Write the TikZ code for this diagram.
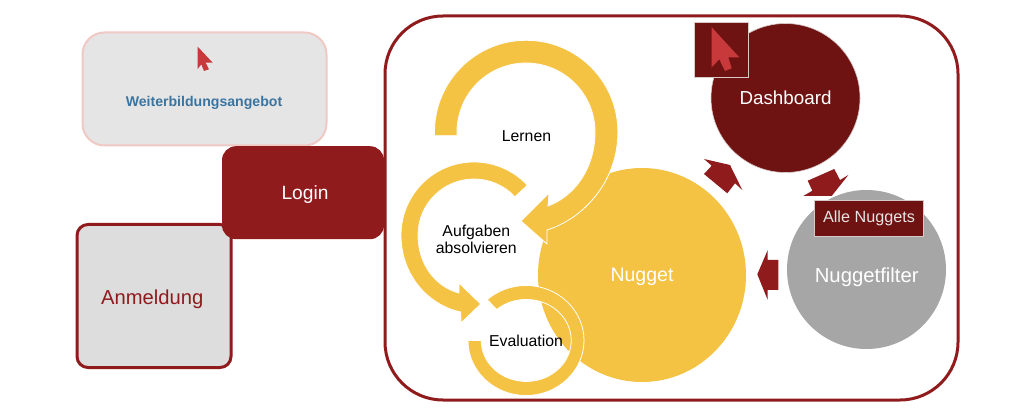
\documentclass[tikz,border=0pt]{standalone}
\usepackage{fontspec}
\usetikzlibrary{shapes.geometric}
\setmainfont{Liberation Sans}
\definecolor{crimson}{HTML}{8F1B1D}
\definecolor{darkred}{HTML}{6E1312}
\definecolor{gold}{HTML}{F5C344}
\definecolor{cursorred}{HTML}{C8393B}
\definecolor{softgrey}{HTML}{E5E5E5}
\definecolor{softpink}{HTML}{F0C8C4}
\definecolor{boxgrey}{HTML}{DDDDDD}
\definecolor{linkblue}{HTML}{3A74A0}
\definecolor{filtergrey}{HTML}{A6A6A6}
\definecolor{paleedge}{HTML}{D8C8C8}
\tikzset{
  boxnode/.style={rectangle,inner sep=0pt,outer sep=0pt,align=center},
  roundnode/.style={ellipse,inner sep=0pt,outer sep=0pt,align=center},
  label18/.style={inner sep=0pt,outer sep=0pt,align=center,font=\fontsize{#1}{#1}\selectfont},
  ringarrow/.style={fill=gold,draw=white,line width=0.8pt,line join=miter},
  blockarrow/.style={fill=crimson,draw=none},
  cursorshape/.style={fill=cursorred,draw=none},
}
\begin{document}
\begin{tikzpicture}[x=1pt,y=-1pt]
\useasboundingbox (0,0) rectangle (1024,419);
% left boxes
\node[boxnode,minimum width=244pt,minimum height=113pt,rounded corners=22pt,fill=softgrey,draw=softpink,line width=2pt] (offer) at (204.5,89) {};
\fill[cursorshape] (197.7,46.7) -- (212.7,62.7) -- (205.7,62.7) -- (209,69.3) -- (204,71) -- (201.3,64.3) -- (197.7,69) -- cycle;
\node[label18=14.1,font=\fontsize{14.1}{16}\selectfont\bfseries,text=linkblue] (offertext) at (204,103) {Weiterbildungsangebot};
\node[boxnode,minimum width=154pt,minimum height=143pt,rounded corners=11pt,fill=boxgrey,draw=crimson,line width=3pt] (anmeldung) at (154,296) {};
\node[label18=20.2,text=crimson] (anmeldungtext) at (152.3,299.7) {Anmeldung};
% main frame
\node[boxnode,minimum width=573pt,minimum height=384pt,rounded corners=58pt,fill=white,draw=crimson,line width=3pt] (main) at (671.5,208) {};
% login
\node[boxnode,minimum width=162pt,minimum height=93pt,rounded corners=14pt,fill=crimson] (login) at (303,192.7) {};
\node[label18=19.2,text=white] (logintext) at (305,194.7) {Login};
% nugget
\node[roundnode,minimum width=208pt,minimum height=214pt,fill=gold] (nugget) at (642,275) {};
\node[label18=19.5,text=white] (nuggettext) at (642,277) {Nugget};
% Lernen ring arrow
\path[ringarrow] (434.5,135.7) -- (434.5,132) arc (180:360:91.7) .. controls (618,180) and (585,218) .. (547,230)
  -- (547,244) -- (521,221) -- (549,193) -- (548,206) .. controls (575,196) and (595,168) .. (595,132) arc (360:180:69) -- (457,135.7) -- cycle;
% Aufgaben ring arrow
\path[ringarrow] (527.4,185.2) arc (317:180:73) .. controls (401,275) and (428,305) .. (460.7,312)
  -- (461,323) -- (480.7,304) -- (459,283) -- (459,293) .. controls (436,287) and (418,265) .. (418,235) arc (180:317:56) -- cycle;
% Evaluation ring arrow
\path[ringarrow] (468,340.5) arc (180:-132:58 and 55) -- (496.7,309.5) arc (-131:180:45 and 41) -- cycle;
\node[label18=15.8] (lernen) at (526.5,136) {Lernen};
\node[inner sep=0pt,align=center,font=\fontsize{15.8}{17}\selectfont] (aufgaben) at (476.3,239.5) {Aufgaben\\absolvieren};
\node[label18=15.8] (evaluation) at (526,340.7) {Evaluation};
% Dashboard
\node[roundnode,minimum width=149pt,minimum height=149pt,fill=darkred,draw=paleedge,line width=0.6pt,text=white,font=\fontsize{18.8}{24}\selectfont] (dashboard) at (785.5,98) {Dashboard};
\node[boxnode,minimum width=54.7pt,minimum height=55.7pt,fill=darkred,draw=paleedge,line width=0.6pt] (cursorbox) at (721.3,49.8) {};
\fill[cursorshape] (711.7,27.3) -- (739.3,57.3) -- (728.3,57.3) -- (731.7,68.3) -- (725,71) -- (719.3,59.3) -- (711.7,67.3) -- cycle;
% Nuggetfilter
\node[roundnode,minimum width=159pt,minimum height=159pt,fill=filtergrey] (filter) at (866.5,269.5) {};
\node[label18=20.3,text=white] (filtertext) at (866.7,277) {Nuggetfilter};
% block arrows
\fill[blockarrow] (704,159) -- (730,165) -- (742.3,190) -- (735,183.3) -- (727.3,193.3) -- (704,174) -- (711.7,165.7) -- cycle;
\fill[blockarrow] (834.3,169) -- (840,180) -- (848.3,175) -- (831.7,196) -- (803.3,196) -- (812.3,190.7) -- (807.7,180.7) -- cycle;
\fill[blockarrow] (757.3,274.3) -- (767.7,250) -- (767.7,260) -- (778.3,260) -- (778.3,290) -- (767.7,290) -- (767.7,300) -- cycle;
% Alle Nuggets
\node[boxnode,minimum width=109pt,minimum height=36pt,fill=darkred,draw=paleedge,line width=0.6pt] (alle) at (868.5,218) {};
\node[label18=16.2,text=white!90!black] (alletext) at (869,218.5) {Alle Nuggets};
\end{tikzpicture}
\end{document}
